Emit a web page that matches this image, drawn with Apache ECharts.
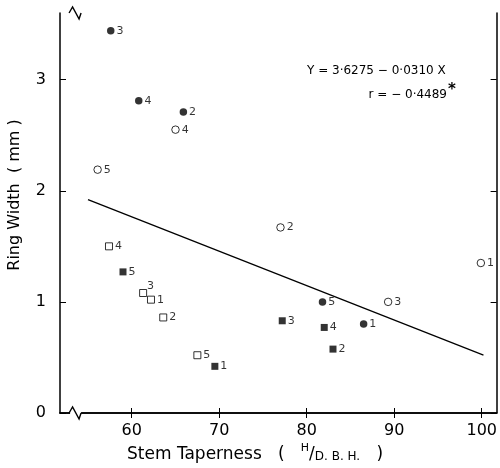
<!DOCTYPE html>
<html lang="en">
<head>
  <meta charset="UTF-8">
  <title>Ring width vs stem taperness</title>
  <style>
    html, body { margin: 0; padding: 0; background: #fff; }
    #main { width: 500px; height: 468px; }
  </style>
</head>
<body>
  <div id="main"></div>
  <script src="https://cdn.jsdelivr.net/npm/echarts@6/dist/echarts.min.js"></script>
  <script>
    // data: [taperness, ring width, plot number]
    const solidCircles = [[57.6, 3.44, '3'], [60.8, 2.81, '4'], [65.9, 2.71, '2'], [81.8, 1.00, '5'], [86.5, 0.80, '1']];
    const openCircles = [[65.0, 2.55, '4'], [56.1, 2.19, '5'], [77.0, 1.67, '2'], [89.3, 1.00, '3'], [99.9, 1.35, '1']];
    const solidSquares = [[59.0, 1.27, '5'], [69.5, 0.42, '1'], [77.2, 0.83, '3'], [82.0, 0.77, '4'], [83.0, 0.575, '2']];
    const openSquares = [[57.4, 1.50, '4'], [61.3, 1.08, '3'], [62.2, 1.02, '1'], [63.6, 0.86, '2'], [67.5, 0.52, '5']];
    // regression line end points
    const fitLine = [[55.0, 1.92], [100.2, 0.52]];
    const xTicks = [60, 70, 80, 90, 100];
    const yTicks = [0, 1, 2, 3];
    const equation = 'Y = 3·6275 − 0·0310 X';
    const corr = 'r = − 0·4489';

    const xMin = 51.8, xMax = 101.7;
    const yMin = 0, yMax = 3.6;
    const font = 'DejaVu Sans';

    const chart = echarts.init(document.getElementById('main'));

    function pointSeries(data, symbol, filled, name) {
      return {
        name,
        type: 'scatter',
        symbol,
        symbolSize: symbol === 'circle' ? 7.5 : 7,
        itemStyle: {
          color: filled ? '#000' : '#fff',
          borderColor: '#000',
          borderWidth: filled ? 0 : 1
        },
        label: {
          show: true,
          position: 'right',
          distance: 2,
          color: '#000',
          fontFamily: font,
          fontSize: 11,
          formatter: p => p.data.value[2]
        },
        data: data.map(d => {
          const item = { value: d };
          // the "3" of the open square sits raised, above its neighbour
          if (name === 'openSquare' && d[2] === '3') {
            item.label = { position: [8, -8] };
          }
          return item;
        }),
        z: 3
      };
    }

    const axisLine = { show: true, lineStyle: { color: '#000', width: 1.5 } };

    const option = {
      backgroundColor: '#fff',
      animation: false,
      grid: { left: 60, right: 1, top: 13, bottom: 55 },
      xAxis: [
        {
          type: 'value', min: xMin, max: xMax,
          axisLine, splitLine: { show: false },
          axisTick: { inside: true, length: 5, customValues: xTicks, lineStyle: { color: '#000' } },
          axisLabel: { color: '#000', fontFamily: font, fontSize: 16, margin: 10, customValues: xTicks }
        },
        {
          type: 'value', position: 'top', min: xMin, max: xMax,
          axisLine, splitLine: { show: false },
          axisTick: { inside: true, length: 5, customValues: xTicks, lineStyle: { color: '#000' } },
          axisLabel: { show: false }
        }
      ],
      yAxis: [
        {
          type: 'value', min: yMin, max: yMax,
          axisLine, splitLine: { show: false },
          axisTick: { inside: true, length: 6, customValues: yTicks, lineStyle: { color: '#000' } },
          axisLabel: { color: '#000', fontFamily: font, fontSize: 16, margin: 14, customValues: yTicks }
        },
        {
          type: 'value', position: 'right', min: yMin, max: yMax,
          axisLine, splitLine: { show: false },
          axisTick: { inside: true, length: 6, customValues: yTicks, lineStyle: { color: '#000' } },
          axisLabel: { show: false }
        }
      ],
      series: [
        {
          type: 'line',
          data: fitLine,
          symbol: 'none',
          lineStyle: { color: '#000', width: 1.3 },
          z: 2
        },
        pointSeries(solidCircles, 'circle', true, 'solidCircle'),
        pointSeries(openCircles, 'circle', false, 'openCircle'),
        pointSeries(solidSquares, 'rect', true, 'solidSquare'),
        pointSeries(openSquares, 'rect', false, 'openSquare')
      ]
    };

    chart.setOption(option);

    // axis breaks, equation text and axis titles
    const bx = chart.convertToPixel({ xAxisIndex: 0 }, 52.95);
    const yBottom = chart.convertToPixel({ yAxisIndex: 0 }, yMin);
    const yTop = chart.convertToPixel({ yAxisIndex: 0 }, yMax);

    function breakMark(y) {
      return [
        { type: 'rect', shape: { x: bx, y: y - 2, width: 11, height: 4 }, style: { fill: '#fff' }, z: 100 },
        {
          type: 'polyline', z: 101,
          shape: { points: [[bx - 1, y], [bx + 2.5, y - 6], [bx + 9, y + 6], [bx + 11, y]] },
          style: { stroke: '#000', lineWidth: 1.4, fill: null }
        }
      ];
    }

    chart.setOption({
      graphic: [
        ...breakMark(yBottom),
        ...breakMark(yTop),
        {
          type: 'text', left: 307, top: 65, z: 100,
          style: { text: equation, font: '12px "' + font + '"', fill: '#000' }
        },
        {
          type: 'text', right: 53, top: 89, z: 100,
          style: { text: corr, font: '12px "' + font + '"', fill: '#000', textAlign: 'right' }
        },
        {
          type: 'text', left: 448, top: 83, z: 100,
          style: { text: '*', font: 'bold 15px "' + font + '"', fill: '#000' }
        },
        {
          type: 'text', left: 127, top: 443, z: 100,
          style: {
            text: '{a|Stem Taperness   (   }{h|H}{a|/}{s|D. B. H.}{a|   )}',
            rich: {
              a: { fontFamily: font, fontSize: 17, fill: '#000', verticalAlign: 'bottom' },
              h: { fontFamily: font, fontSize: 11, fill: '#000', verticalAlign: 'top', padding: [0, 0, 9, 0] },
              s: { fontFamily: font, fontSize: 12, fill: '#000', verticalAlign: 'bottom', padding: [6, 0, 0, 0] }
            }
          }
        },
        {
          type: 'text', x: 15, y: 195, rotation: Math.PI / 2, z: 100,
          style: {
            text: 'Ring Width  ( mm )',
            font: '16px "' + font + '"', fill: '#000',
            textAlign: 'center', textVerticalAlign: 'middle'
          }
        }
      ]
    });
  </script>
</body>
</html>
